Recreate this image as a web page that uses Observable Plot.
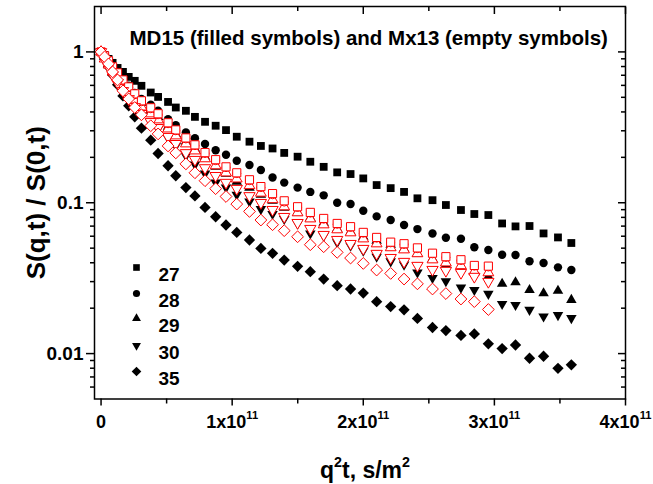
<!DOCTYPE html>
<html>
<head>
<meta charset="utf-8">
<script src="https://cdn.jsdelivr.net/npm/d3@7"></script>
<script src="https://cdn.jsdelivr.net/npm/@observablehq/plot@0.6"></script>
<style>
  body { margin: 0; background: #fff; }
  #chart { width: 653px; height: 484px; }
</style>
</head>
<body>
<div id="chart"></div>
<script>
// q^2 t values, in units of 1e11 s/m^2 (shared by all series)
const xGrid = [0, 0.027, 0.057, 0.088, 0.126, 0.167, 0.211, 0.257, 0.308, 0.379, 0.435, 0.511, 0.570, 0.647, 0.716, 0.793, 0.874, 0.953, 1.035, 1.132, 1.219, 1.308, 1.397, 1.499, 1.596, 1.698, 1.801, 1.903, 2.000, 2.102, 2.209, 2.311, 2.413, 2.528, 2.630, 2.745, 2.847, 2.954, 3.059, 3.161, 3.268, 3.375, 3.485, 3.587];

// MD15 (filled symbols)
const md15_27 = [1.000, 0.955, 0.899, 0.846, 0.783, 0.737, 0.683, 0.643, 0.596, 0.538, 0.503, 0.466, 0.428, 0.407, 0.371, 0.344, 0.324, 0.303, 0.274, 0.254, 0.238, 0.229, 0.214, 0.202, 0.187, 0.173, 0.159, 0.155, 0.145, 0.131, 0.125, 0.118, 0.107, 0.104, 0.0966, 0.0895, 0.0842, 0.0829, 0.0729, 0.0697, 0.0701, 0.0626, 0.0589, 0.0541];
const md15_28 = [1.000, 0.941, 0.872, 0.808, 0.726, 0.663, 0.596, 0.535, 0.488, 0.446, 0.407, 0.358, 0.327, 0.292, 0.268, 0.245, 0.223, 0.208, 0.190, 0.178, 0.165, 0.147, 0.136, 0.126, 0.118, 0.112, 0.100, 0.098, 0.0885, 0.0812, 0.0768, 0.0712, 0.0669, 0.0626, 0.0586, 0.0577, 0.0507, 0.0486, 0.0452, 0.0450, 0.0409, 0.0399, 0.0373, 0.0358];
const md15_29 = [1.000, 0.934, 0.859, 0.796, 0.704, 0.633, 0.560, 0.503, 0.460, 0.407, 0.371, 0.319, 0.286, 0.254, 0.228, 0.202, 0.173, 0.156, 0.138, 0.126, 0.113, 0.103, 0.0927, 0.0859, 0.0796, 0.0737, 0.0673, 0.0643, 0.0595, 0.0560, 0.0527, 0.0496, 0.0460, 0.0426, 0.0389, 0.0366, 0.0349, 0.0324, 0.0290, 0.0297, 0.0264, 0.0251, 0.0261, 0.0227];
const md15_30 = [1.000, 0.913, 0.820, 0.737, 0.643, 0.569, 0.496, 0.439, 0.394, 0.344, 0.309, 0.269, 0.238, 0.205, 0.179, 0.156, 0.136, 0.126, 0.113, 0.102, 0.0908, 0.0842, 0.0780, 0.0729, 0.0626, 0.0605, 0.0546, 0.0519, 0.0481, 0.0439, 0.0409, 0.0389, 0.0345, 0.0317, 0.0302, 0.0274, 0.0264, 0.0249, 0.0213, 0.0210, 0.0195, 0.0176, 0.0180, 0.0172];
const md15_35 = [1.000, 0.899, 0.796, 0.704, 0.605, 0.511, 0.439, 0.371, 0.312, 0.260, 0.212, 0.176, 0.151, 0.126, 0.111, 0.0931, 0.0808, 0.0712, 0.0636, 0.0566, 0.0498, 0.0462, 0.0417, 0.0379, 0.0349, 0.0312, 0.0282, 0.0268, 0.0252, 0.0221, 0.0205, 0.0195, 0.0171, 0.0149, 0.0142, 0.0132, 0.0135, 0.0116, 0.0108, 0.0114, 0.00931, 0.00960, 0.00799, 0.00842];

// Mx13 (empty symbols)
const mx13_27 = [1.000, 0.941, 0.872, 0.796, 0.726, 0.652, 0.586, 0.527, 0.474, 0.426, 0.389, 0.339, 0.304, 0.269, 0.242, 0.215, 0.193, 0.173, 0.158, 0.142, 0.128, 0.115, 0.103, 0.0941, 0.0863, 0.0787, 0.0729, 0.0694, 0.0636, 0.0589, 0.0548, 0.0535, 0.0502, 0.0463, 0.0439, 0.0419, 0.0384, 0.0380];
const mx13_28 = [1.000, 0.930, 0.860, 0.785, 0.715, 0.643, 0.578, 0.520, 0.467, 0.420, 0.383, 0.334, 0.300, 0.265, 0.239, 0.212, 0.190, 0.171, 0.156, 0.140, 0.126, 0.113, 0.101, 0.0930, 0.0853, 0.0778, 0.0720, 0.0686, 0.0628, 0.0582, 0.0542, 0.0529, 0.0496, 0.0458, 0.0434, 0.0414, 0.0380, 0.0375];
const mx13_29 = [1.000, 0.899, 0.820, 0.737, 0.663, 0.596, 0.535, 0.481, 0.432, 0.389, 0.355, 0.309, 0.278, 0.246, 0.221, 0.196, 0.176, 0.158, 0.144, 0.130, 0.116, 0.105, 0.0941, 0.0859, 0.0783, 0.0715, 0.0663, 0.0633, 0.0577, 0.0535, 0.0504, 0.0488, 0.0460, 0.0419, 0.0400, 0.0383, 0.0349, 0.0344];
const mx13_30 = [1.000, 0.885, 0.796, 0.704, 0.623, 0.552, 0.488, 0.432, 0.389, 0.344, 0.314, 0.274, 0.246, 0.214, 0.193, 0.170, 0.151, 0.136, 0.124, 0.111, 0.100, 0.0899, 0.0808, 0.0737, 0.0673, 0.0614, 0.0569, 0.0535, 0.0496, 0.0460, 0.0432, 0.0407, 0.0383, 0.0360, 0.0355, 0.0344, 0.0324, 0.0300];
const mx13_35 = [1.000, 0.927, 0.833, 0.737, 0.652, 0.552, 0.488, 0.428, 0.383, 0.324, 0.286, 0.238, 0.214, 0.181, 0.158, 0.140, 0.124, 0.110, 0.0980, 0.0876, 0.0768, 0.0715, 0.0653, 0.0595, 0.0527, 0.0511, 0.0469, 0.0430, 0.0396, 0.0358, 0.0340, 0.0312, 0.0290, 0.0268, 0.0250, 0.0230, 0.0221, 0.0196];

const legendLabels = ["27", "28", "29", "30", "35"];
const titleText = "MD15 (filled symbols) and Mx13 (empty symbols)";
const xLabel = "q^{2}t, s/m^{2}";
const yLabel = "S(q,t) / S(0,t)";
const xMajor = [0, 1e11, 2e11, 3e11, 4e11];
const xMinor = [0.5e11, 1.5e11, 2.5e11, 3.5e11];
const yMajor = [0.01, 0.1, 1];
const yMinor = [0.006, 0.007, 0.008, 0.009, 0.02, 0.03, 0.04, 0.05, 0.06, 0.07, 0.08, 0.09, 0.2, 0.3, 0.4, 0.5, 0.6, 0.7, 0.8, 0.9];

// symbol styles, in series order 27, 28, 29, 30, 35
const styles = [
  {symbol: "square", r: 4.4, rotate: 0, rRed: 4.6},
  {symbol: "circle", r: 4.2, rotate: 0, rRed: 4.0},
  {symbol: "triangle", r: 3.9, rotate: 0, rRed: 4.0},
  {symbol: "triangle", r: 3.9, rotate: 180, rRed: 4.2},
  {symbol: "diamond2", r: 5.1, rotate: 0, rRed: 5.3}
];
const md15 = [md15_27, md15_28, md15_29, md15_30, md15_35];
const mx13 = [mx13_27, mx13_28, mx13_29, mx13_30, mx13_35];

const toRows = vals => vals.map((v, i) => ({x: xGrid[i] * 1e11, y: v}));

const marks = [];
md15.forEach((vals, k) => {
  const s = styles[k];
  marks.push(Plot.dot(toRows(vals), {x: "x", y: "y", symbol: s.symbol, r: s.r, rotate: s.rotate, fill: "black", stroke: "none"}));
});
// hollow red symbols (white inside), drawn over the black ones
[2, 1, 0, 3, 4].forEach(k => {
  const s = styles[k];
  marks.push(Plot.dot(toRows(mx13[k]), {x: "x", y: "y", symbol: s.symbol, r: s.rRed, rotate: s.rotate, fill: "white", stroke: "#ff0000", strokeWidth: 1}));
});

// legend (inside the frame)
const legendY = [261, 287, 312, 339, 365];
legendLabels.forEach((lab, k) => {
  const s = styles[k];
  marks.push(Plot.dot([lab], {frameAnchor: "top-left", dx: 42, dy: legendY[k], symbol: s.symbol, r: s.r * 0.85, rotate: s.rotate, fill: "black"}));
  marks.push(Plot.text([lab], {frameAnchor: "top-left", dx: 64, dy: legendY[k], text: d => d, textAnchor: "start", fontSize: 19, fontWeight: "bold"}));
});

// title inside the frame
marks.push(Plot.text([titleText], {frameAnchor: "top-left", dx: 35, dy: 38, text: d => d, textAnchor: "start", lineAnchor: "bottom", fontSize: 20.5, fontWeight: "bold"}));

const fmtX = d => d === 0 ? "0" : `${d / 1e11}x10^{11}`;
const blank = () => "";

marks.push(
  Plot.axisY({anchor: "left", ticks: yMajor, tickSize: 8, tickPadding: 3, tickFormat: d => String(d), strokeWidth: 1.5, fontSize: 19, fontWeight: "bold"}),
  Plot.axisY({anchor: "left", ticks: yMinor, tickSize: 4, tickFormat: blank, strokeWidth: 1.5}),
  Plot.axisY({anchor: "right", ticks: yMajor, tickSize: -8, tickFormat: blank, strokeWidth: 1.5}),
  Plot.axisY({anchor: "right", ticks: yMinor, tickSize: -5, tickFormat: blank, strokeWidth: 1.5}),
  Plot.axisX({anchor: "bottom", ticks: xMajor, tickSize: 7, tickPadding: 9, tickFormat: fmtX, strokeWidth: 1.5, fontSize: 18, fontWeight: "bold"}),
  Plot.axisX({anchor: "bottom", ticks: xMinor, tickSize: 5, tickFormat: blank, strokeWidth: 1.5}),
  Plot.axisX({anchor: "top", ticks: xMajor, tickSize: -7, tickFormat: blank, strokeWidth: 1.5}),
  Plot.axisX({anchor: "top", ticks: xMinor, tickSize: -4, tickFormat: blank, strokeWidth: 1.5}),
  Plot.frame({stroke: "black", strokeWidth: 1.5}),
  Plot.text([xLabel], {frameAnchor: "bottom", dx: 5, dy: 79, text: d => d, textAnchor: "middle", lineAnchor: "bottom", fontSize: 23, fontWeight: "bold"}),
  Plot.text([yLabel], {frameAnchor: "left", dx: -58, dy: 0, text: d => d, textAnchor: "middle", lineAnchor: "middle", rotate: -90, fontSize: 26, fontWeight: "bold"})
);

const chart = Plot.plot({
  width: 653,
  height: 484,
  marginLeft: 94,
  marginRight: 28,
  marginTop: 6,
  marginBottom: 85.5,
  x: {domain: [-0.05e11, 4e11], label: null},
  y: {type: "log", domain: [0.005, 2], label: null},
  style: {fontFamily: "'Liberation Sans', Arial, sans-serif", fontWeight: "bold", fontSize: "17px", background: "#fff", color: "#000"},
  marks
});

// superscripts: turn "^{..}" into raised tspans
chart.querySelectorAll("text").forEach(t => {
  const s = t.textContent;
  if (!s.includes("^{")) return;
  const parts = s.split(/(\^\{[^}]*\})/);
  t.textContent = "";
  let raised = false;
  parts.forEach(p => {
    if (!p) return;
    const ts = document.createElementNS("http://www.w3.org/2000/svg", "tspan");
    if (p.startsWith("^{")) {
      ts.textContent = p.slice(2, -1);
      ts.setAttribute("font-size", "0.62em");
      ts.setAttribute("dy", "-0.75em");
      raised = true;
    } else {
      ts.textContent = p;
      if (raised) { ts.setAttribute("dy", "0.465em"); raised = false; }
    }
    t.appendChild(ts);
  });
});

document.getElementById("chart").appendChild(chart);
</script>
</body>
</html>
